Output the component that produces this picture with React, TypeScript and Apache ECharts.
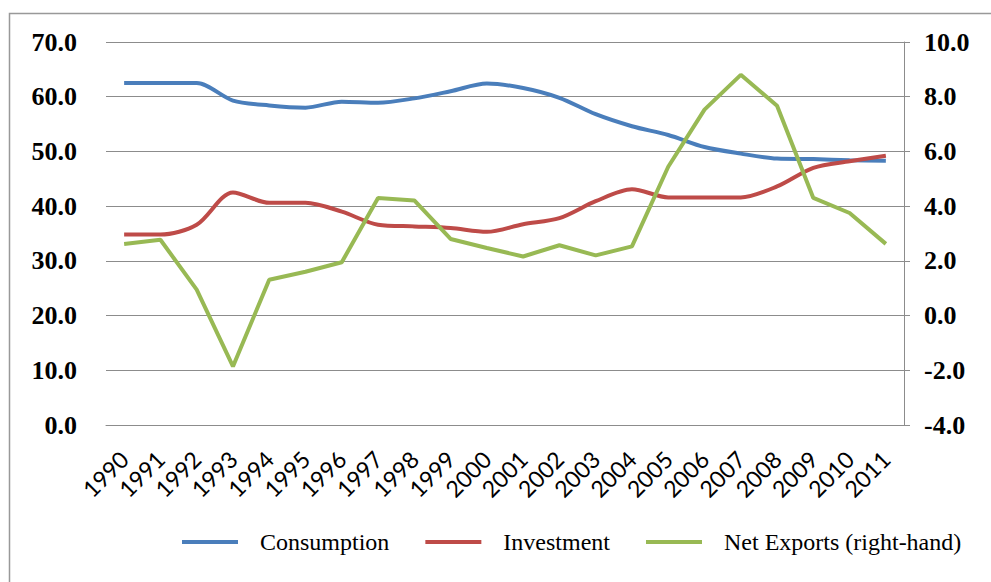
import React, { useEffect, useRef } from "react";
import * as echarts from "echarts";

const years = ["1990","1991","1992","1993","1994","1995","1996","1997","1998","1999","2000","2001","2002","2003","2004","2005","2006","2007","2008","2009","2010","2011"];
const consumption = [62.5,62.5,62.5,59.3,58.4,58.0,59.1,58.9,59.7,61.0,62.4,61.6,59.8,56.8,54.6,53.0,50.8,49.6,48.7,48.6,48.4,48.3];
const investment = [34.8,34.8,36.6,42.5,40.6,40.6,39.0,36.6,36.3,36.0,35.3,36.7,37.8,40.9,43.1,41.6,41.6,41.6,43.6,47.0,48.2,49.2];
const netExports = [2.62,2.77,0.95,-1.86,1.31,1.60,1.95,4.30,4.21,2.80,2.47,2.16,2.57,2.20,2.53,5.44,7.53,8.80,7.67,4.30,3.75,2.62];
const leftTicks = { min: 0, max: 70, interval: 10 };
const rightTicks = { min: -4, max: 10, interval: 2 };

export default function App() {
  const ref = useRef<HTMLDivElement>(null);
  useEffect(() => {
    if (!ref.current) return;
    const chart = echarts.init(ref.current, null, { renderer: "svg" });
    const gridColor = "#8c8c8c";
    chart.setOption({
      animation: false,
      backgroundColor: "#ffffff",
      graphic: [
        {
          type: "rect",
          z: -10,
          silent: true,
          shape: { x: 9.5, y: 13.5, width: 1000, height: 700 },
          style: { fill: "none", stroke: "#999999", lineWidth: 1.5 },
        },
      ],
      grid: { left: 106, right: 87, top: 42, bottom: 157 },
      legend: {
        left: 182,
        top: 530,
        padding: 0,
        icon: "rect",
        itemWidth: 56,
        itemHeight: 4,
        itemGap: 36,
        data: ["Consumption", "Investment", "Net Exports (right-hand)"],
        textStyle: {
          fontFamily: "Liberation Serif",
          fontSize: 24,
          color: "#000000",
          padding: [0, 0, 0, 17],
        },
      },
      xAxis: {
        type: "category",
        data: years,
        boundaryGap: true,
        axisLine: { show: true, lineStyle: { color: gridColor, width: 1 } },
        axisTick: { show: false },
        axisLabel: {
          rotate: 45,
          interval: 0,
          margin: 30,
          fontFamily: "Lato",
          fontSize: 23,
          color: "#000000",
        },
      },
      yAxis: [
        {
          type: "value",
          ...leftTicks,
          position: "left",
          axisLine: { show: false },
          axisTick: { show: false },
          splitLine: { show: true, lineStyle: { color: gridColor, width: 1 } },
          axisLabel: {
            margin: 29,
            formatter: (v: number) => v.toFixed(1),
            fontFamily: "Liberation Serif",
            fontWeight: "bold",
            fontSize: 26,
            color: "#000000",
          },
        },
        {
          type: "value",
          ...rightTicks,
          position: "right",
          axisLine: { show: true, lineStyle: { color: gridColor, width: 1 } },
          axisTick: { show: true, length: 6, inside: false, lineStyle: { color: gridColor } },
          splitLine: { show: false },
          axisLabel: {
            margin: 20,
            formatter: (v: number) => v.toFixed(1),
            fontFamily: "Liberation Serif",
            fontWeight: "bold",
            fontSize: 26,
            color: "#000000",
          },
        },
      ],
      series: [
        {
          name: "Consumption",
          type: "line",
          data: consumption,
          yAxisIndex: 0,
          symbol: "none",
          smooth: 0.3,
          color: "#4a7ebb",
          lineStyle: { width: 4, color: "#4a7ebb" },
        },
        {
          name: "Investment",
          type: "line",
          data: investment,
          yAxisIndex: 0,
          symbol: "none",
          smooth: 0.3,
          color: "#be4b48",
          lineStyle: { width: 4, color: "#be4b48" },
        },
        {
          name: "Net Exports (right-hand)",
          type: "line",
          data: netExports,
          yAxisIndex: 1,
          symbol: "none",
          color: "#98b954",
          lineStyle: { width: 4, color: "#98b954" },
        },
      ],
    });
    return () => chart.dispose();
  }, []);
  return (
    <div
      ref={ref}
      style={{ position: "fixed", left: 0, top: 0, width: 991, height: 582 }}
    />
  );
}
